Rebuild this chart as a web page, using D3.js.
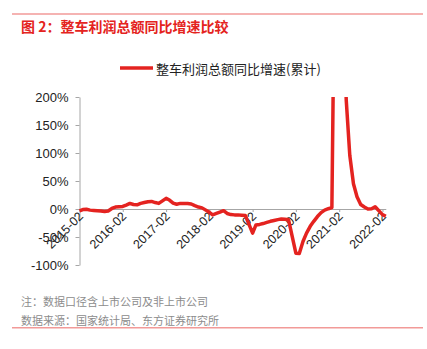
<!DOCTYPE html>
<html>
<head>
<meta charset="utf-8">
<script src="https://cdn.jsdelivr.net/npm/d3@7/dist/d3.min.js"></script>
<style>
  html, body { margin: 0; padding: 0; background: #fff; }
  svg { display: block; }
  .cjk { font-family: "Noto Sans CJK SC", "Noto Sans", sans-serif; }
  .axis text { font-family: "Liberation Sans", Arial, sans-serif; fill: #222; }
</style>
</head>
<body>
<svg id="chart" width="427" height="349"></svg>
<script>
// Cumulative (YTD) year-on-year growth of vehicle-maker total profit, %.
// China publishes Jan–Feb combined, so each year runs Feb..Dec.
const months = [
  "2015-02","2015-03","2015-04","2015-05","2015-06","2015-07","2015-08","2015-09","2015-10","2015-11","2015-12",
  "2016-02","2016-03","2016-04","2016-05","2016-06","2016-07","2016-08","2016-09","2016-10","2016-11","2016-12",
  "2017-02","2017-03","2017-04","2017-05","2017-06","2017-07","2017-08","2017-09","2017-10","2017-11","2017-12",
  "2018-02","2018-03","2018-04","2018-05","2018-06","2018-07","2018-08","2018-09","2018-10","2018-11","2018-12",
  "2019-02","2019-03","2019-04","2019-05","2019-06","2019-07","2019-08","2019-09","2019-10","2019-11","2019-12",
  "2020-02","2020-03","2020-04","2020-05","2020-06","2020-07","2020-08","2020-09","2020-10","2020-11","2020-12",
  "2021-02","2021-03","2021-04","2021-05","2021-06","2021-07","2021-08","2021-09","2021-10","2021-11","2021-12",
  "2022-02","2022-03"
];
const profitGrowth = [
  -3.5, -1, -0.5, -2, -2.5, -3, -3.5, -4.5, -3.5, 1, 3.5,
  4.5, 7, 10, 8, 7.5, 10, 11.5, 13, 13.5, 11.5, 10,
  19, 16, 10.5, 8.5, 10, 10, 10, 9, 6, 3.5, 2,
  -6, -10.5, -8, -5.5, -3, -8, -10, -10.5, -10.5, -11, -11.5,
  -43, -28.5, -27.5, -26, -24, -22, -20.5, -19, -18, -18.5, -19,
  -79, -79.5, -58, -43, -31, -22, -13.5, -6.5, -2, 0.5, 2.5,
  1200, 420, 195, 96, 45, 22, 8, 3.5, 0, 0.5, 4,
  -10, -13
];
const xTickLabels = ["2015-02","2016-02","2017-02","2018-02","2019-02","2020-02","2021-02","2022-02"];
const yTicks = [-100, -50, 0, 50, 100, 150, 200];

const titleText = "图 2：整车利润总额同比增速比较";
const seriesName = "整车利润总额同比增速(累计)";
const noteText = "注：数据口径含上市公司及非上市公司";
const sourceText = "数据来源：国家统计局、东方证券研究所";

const RED = "#E42320";
const RULE = "#F29A98";
const AXIS = "#A6A6A6";

const parse = d3.timeParse("%Y-%m");
const data = months.map((m, i) => ({ date: parse(m), value: profitGrowth[i] }));
const xTickDates = xTickLabels.map(parse);
const labelFor = d => xTickLabels[xTickDates.findIndex(t => +t === +d)];

const svg = d3.select("#chart");

// header / footer rules
svg.append("line").attr("x1", 12).attr("x2", 423).attr("y1", 14).attr("y2", 14)
  .attr("stroke", RULE).attr("stroke-width", 1.5);
svg.append("line").attr("x1", 12).attr("x2", 423).attr("y1", 327.7).attr("y2", 327.7)
  .attr("stroke", RULE).attr("stroke-width", 1.5);

svg.append("text").attr("class", "cjk")
  .attr("x", 21).attr("y", 25.5).attr("dominant-baseline", "central")
  .attr("font-size", 14).attr("font-weight", "bold").attr("fill", RED)
  .text(titleText);

// legend
svg.append("line").attr("x1", 120).attr("x2", 153).attr("y1", 68).attr("y2", 68)
  .attr("stroke", RED).attr("stroke-width", 3.5);
svg.append("text").attr("class", "cjk")
  .attr("x", 156).attr("y", 68).attr("dominant-baseline", "central")
  .attr("font-size", 13).attr("fill", "#222")
  .text(seriesName);

// scales
const x = d3.scaleTime()
  .domain([parse("2015-02"), parse("2022-03")])
  .range([79.5, 385.8]);
const y = d3.scaleLinear().domain([-100, 200]).range([265, 97]);

// y axis
const yAxis = svg.append("g").attr("class", "axis")
  .attr("transform", "translate(79.5,0)")
  .call(d3.axisLeft(y).tickValues(yTicks).tickFormat(d => d + "%").tickSizeInner(4).tickSizeOuter(0).tickPadding(7));
yAxis.select(".domain").attr("stroke", AXIS);
yAxis.selectAll(".tick line").attr("stroke", AXIS);
yAxis.selectAll("text").attr("font-size", 13);

// x axis along the zero line
const xAxis = svg.append("g").attr("class", "axis")
  .attr("transform", `translate(0,${y(0)})`)
  .call(d3.axisBottom(x)
    .tickValues(xTickDates)
    .tickFormat(labelFor)
    .tickSizeInner(3).tickSizeOuter(0));
xAxis.select(".domain").attr("stroke", AXIS);
xAxis.selectAll(".tick line").attr("stroke", AXIS);
xAxis.selectAll("text")
  .attr("font-size", 12.5)
  .attr("x", 0).attr("y", 0).attr("dy", 0)
  .attr("transform", "translate(4,8) rotate(-45)")
  .style("text-anchor", "end");

// plot clip
svg.append("clipPath").attr("id", "plotClip")
  .append("rect").attr("x", 70).attr("y", y(200)).attr("width", 330).attr("height", y(-100) - y(200));

const line = d3.line().x(d => x(d.date)).y(d => y(d.value));
svg.append("path")
  .datum(data)
  .attr("clip-path", "url(#plotClip)")
  .attr("fill", "none")
  .attr("stroke", RED)
  .attr("stroke-width", 3.5)
  .attr("stroke-linejoin", "round")
  .attr("d", line);

// footnotes
svg.append("text").attr("class", "cjk")
  .attr("x", 21).attr("y", 300.7).attr("dominant-baseline", "central")
  .attr("font-size", 11).attr("fill", "#8C8C8C").text(noteText);
svg.append("text").attr("class", "cjk")
  .attr("x", 21).attr("y", 320).attr("dominant-baseline", "central")
  .attr("font-size", 11).attr("fill", "#8C8C8C").text(sourceText);
</script>
</body>
</html>
